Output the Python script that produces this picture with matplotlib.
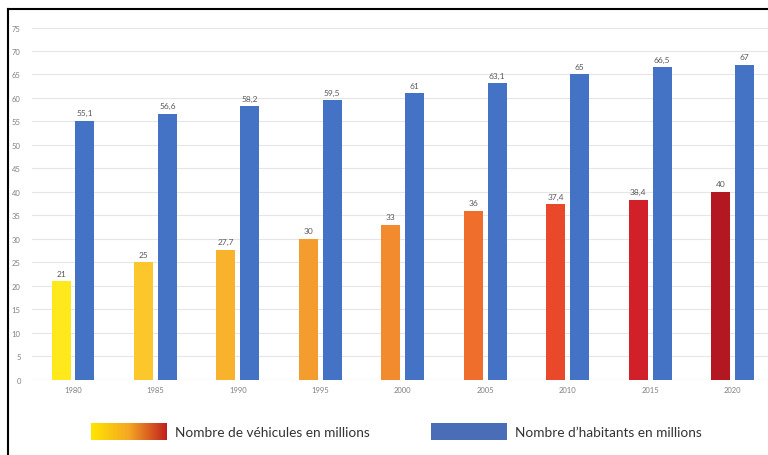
import numpy as np
import matplotlib.pyplot as plt
from matplotlib.lines import Line2D
from matplotlib.colors import LinearSegmentedColormap

years = ["1980", "1985", "1990", "1995", "2000", "2005", "2010", "2015", "2020"]
vehicules = [21, 25, 27.7, 30, 33, 36, 37.4, 38.4, 40]
habitants = [55.1, 56.6, 58.2, 59.5, 61, 63.1, 65, 66.5, 67]
vehicule_labels = ["21", "25", "27,7", "30", "33", "36", "37,4", "38,4", "40"]
habitant_labels = ["55,1", "56,6", "58,2", "59,5", "61", "63,1", "65", "66,5", "67"]
vehicule_colors = ["#FFE81C", "#FCC72A", "#F9B22B", "#F59C2E", "#F28A2E",
                   "#EF6E2C", "#E9482B", "#D2202A", "#B31722"]
blue = "#4472C4"

plt.rcParams['font.family'] = ['Lato', 'DejaVu Sans']

fig = plt.figure(figsize=(7.68, 4.56), dpi=100)
ax = fig.add_axes([0.0414, 0.1645, 0.9586, 0.773])

x = np.arange(len(years))
w = 0.23
off = 0.145
ax.bar(x - off, vehicules, w, color=vehicule_colors, zorder=3)
ax.bar(x + off, habitants, w, color=blue, zorder=3)

for xi, v, lab in zip(x, vehicules, vehicule_labels):
    ax.text(xi - off, v + 1.0, lab, ha="center", va="bottom", fontsize=6, color="#595959")
for xi, v, lab in zip(x, habitants, habitant_labels):
    ax.text(xi + off, v + 1.0, lab, ha="center", va="bottom", fontsize=6, color="#595959")

ax.set_xlim(-0.5, 8.43)
ax.set_ylim(0, 75)
ax.set_yticks(range(0, 80, 5))
ax.set_xticks(x)
ax.set_xticklabels(years)
ax.tick_params(axis="both", length=0, labelsize=5.5, labelcolor="#808080")
ax.tick_params(axis="y", pad=8)
ax.tick_params(axis="x", pad=4)
ax.grid(axis="y", color="#E6E6E6", linewidth=0.8, zorder=0)
for s in ax.spines.values():
    s.set_visible(False)
ax.axhline(0, color="#D9D9D9", linewidth=0.8, zorder=2)

# legend
cmap = LinearSegmentedColormap.from_list("veh", ["#FFE600", "#F5A623", "#C0201E"])
lax = fig.add_axes([91 / 768, 1 - 441 / 456, 76 / 768, 17 / 456])
lax.imshow(np.linspace(0, 1, 256).reshape(1, -1), aspect="auto", cmap=cmap)
lax.axis("off")
bax = fig.add_axes([431 / 768, 1 - 441 / 456, 76 / 768, 17 / 456])
bax.add_patch(plt.Rectangle((0, 0), 1, 1, color="#4A6DB8"))
bax.axis("off")
fig.text(175 / 768, 1 - 433 / 456, "Nombre de véhicules en millions", fontsize=9.8,
         color="#333333", va="center", ha="left")
fig.text(515 / 768, 1 - 433 / 456, "Nombre d’habitants en millions", fontsize=9.8,
         color="#333333", va="center", ha="left")

# frame
fig.add_artist(Line2D([8 / 768, 8 / 768], [0, 1 - 10 / 456], color="black", linewidth=1.5,
                      transform=fig.transFigure))
fig.add_artist(Line2D([8 / 768, 1], [1 - 10 / 456, 1 - 10 / 456], color="black", linewidth=1.5,
                      transform=fig.transFigure))

fig.savefig("out.png", dpi=100)
